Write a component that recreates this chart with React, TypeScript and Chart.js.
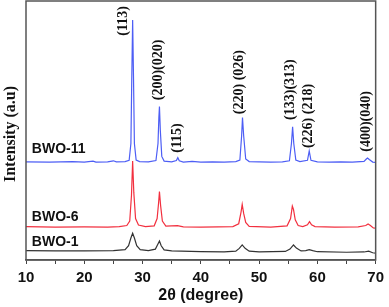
import React, { useEffect, useRef } from "react";
import { Chart, registerables } from "chart.js";

Chart.register(...registerables);

// ---- data ----
const bwo11X = [10, 14, 18, 20, 21.5, 22, 24, 25, 25.5, 27, 27.7, 28.0, 28.15, 28.3, 28.45, 28.6, 28.9, 29.5, 31, 32.3, 32.65, 32.8, 32.9, 33.05, 33.3, 33.7, 35, 35.8, 36.05, 36.3, 37, 38.5, 40, 42, 44, 46, 46.7, 47.0, 47.15, 47.35, 47.7, 48.3, 50, 52, 54, 55.2, 55.55, 55.75, 55.95, 56.3, 57, 58.3, 58.6, 58.9, 60, 62, 64, 66, 68, 68.4, 68.6, 68.9, 69.5, 70];
const bwo11Y = [37.9, 37.8, 38.0, 37.8, 38.2, 37.8, 37.9, 38.3, 37.9, 38.0, 38.5, 45, 70, 92.7, 70, 45, 38.6, 38.0, 37.9, 38.4, 45, 55, 59.3, 50, 40, 38.2, 37.9, 38.4, 39.5, 38.3, 37.8, 38.1, 37.8, 37.9, 37.8, 38.0, 38.6, 48, 55, 48, 39, 38.0, 37.9, 37.8, 37.9, 38.3, 45, 51.4, 45, 38.6, 38.0, 38.5, 42.1, 38.5, 37.9, 37.8, 37.9, 37.8, 38.1, 39, 39.4, 38.8, 37.8, 37.7];

const bwo6X = [10, 15, 20, 24, 26, 27.3, 27.8, 28.1, 28.3, 28.5, 28.8, 29.3, 30.5, 32.0, 32.5, 32.75, 32.9, 33.1, 33.4, 34, 36, 37, 40, 43, 45.5, 46.5, 46.9, 47.1, 47.35, 47.7, 48.3, 52, 54.8, 55.4, 55.7, 55.9, 56.2, 56.7, 57.5, 58.3, 58.65, 59, 59.6, 63, 67, 68.3, 68.7, 69.1, 69.6, 70];
const bwo6Y = [12.9, 12.7, 12.8, 12.7, 12.9, 13.3, 15, 25, 38.2, 26, 16, 13.5, 12.9, 13.2, 16, 22, 26.4, 21, 15, 13.1, 13.3, 12.8, 12.7, 12.8, 12.9, 14, 18.5, 21.5, 18, 14.5, 13.0, 12.7, 13.2, 16, 20.8, 19.5, 15.5, 13.3, 12.9, 13.6, 14.8, 13.6, 12.9, 12.7, 12.8, 13.3, 13.9, 13.3, 12.4, 12.3];

const bwo1X = [10, 15, 20, 25, 27, 27.6, 28.0, 28.3, 28.6, 29.0, 29.6, 31, 32.2, 32.6, 32.9, 33.2, 33.7, 35, 40, 44, 46.0, 46.6, 47.1, 47.6, 48.3, 50, 54.5, 55.3, 55.9, 56.4, 57.2, 58.0, 58.6, 59.2, 60, 65, 68, 68.8, 69.5, 70];
const bwo1Y = [3.6, 3.5, 3.5, 3.6, 4.0, 5.5, 8.5, 10.3, 8.5, 5.5, 4.0, 3.6, 4.2, 6, 7.3, 5.5, 3.9, 3.5, 3.2, 3.1, 3.4, 4.5, 5.8, 4.5, 3.4, 3.1, 3.3, 4.2, 5.8, 4.6, 3.5, 3.6, 4.0, 3.6, 3.2, 3.0, 3.1, 3.4, 2.8, 2.6];

const xTicks = [10, 20, 30, 40, 50, 60, 70];

const seriesNames = ["BWO-11", "BWO-6", "BWO-1"];
const seriesLabelX = [11.0, 11.0, 11.0];
const seriesLabelY = [42.7, 16.6, 6.9];

const peakLabelText = ["(113)", "(200)(020)", "(115)", "(220) (026)", "(133)(313)", "(226) (218)", "(400)(040)"];
const peakLabelX = [26.75, 32.66, 36.06, 46.7, 55.4, 58.4, 68.4];
const peakLabelY = [92.3, 73.4, 47.1, 68.7, 65.8, 55.6, 53.5];

const xTitle = "2θ (degree)";
const yTitle = "Intensity (a.u)";

const toPts = (xs: number[], ys: number[]) => xs.map((x, i) => ({ x, y: ys[i] }));

const textPlugin = {
  id: "texts",
  afterDraw(chart: any) {
    const ctx = chart.ctx;
    const xs = chart.scales.x;
    const ys = chart.scales.y;
    const ca = chart.chartArea;
    ctx.save();
    // frame
    ctx.strokeStyle = "#555";
    ctx.lineWidth = 1.5;
    ctx.strokeRect(ca.left, ca.top, ca.right - ca.left, ca.bottom - ca.top);
    // series labels
    ctx.fillStyle = "#111";
    ctx.font = "bold 14px 'Liberation Sans', Arial, sans-serif";
    ctx.textAlign = "left";
    ctx.textBaseline = "middle";
    seriesNames.forEach((s, i) => {
      ctx.fillText(s, xs.getPixelForValue(seriesLabelX[i]), ys.getPixelForValue(seriesLabelY[i]));
    });
    // peak labels
    ctx.font = "bold 14px 'Liberation Serif', 'Times New Roman', serif";
    ctx.textAlign = "center";
    ctx.textBaseline = "middle";
    peakLabelText.forEach((t, i) => {
      ctx.save();
      ctx.translate(xs.getPixelForValue(peakLabelX[i]), ys.getPixelForValue(peakLabelY[i]));
      ctx.rotate(-Math.PI / 2);
      ctx.fillText(t, 0, 0);
      ctx.restore();
    });
    // y title
    ctx.font = "bold 16px 'Liberation Serif', 'Times New Roman', serif";
    ctx.save();
    ctx.translate(ca.left - 15, ca.top + 133);
    ctx.rotate(-Math.PI / 2);
    ctx.fillText(yTitle, 0, 0);
    ctx.restore();
    ctx.restore();
  },
};

export default function App() {
  const ref = useRef<HTMLCanvasElement>(null);
  useEffect(() => {
    document.body.style.margin = "0";
    const chart = new Chart(ref.current!, {
      type: "line",
      data: {
        datasets: [
          { label: seriesNames[0], data: toPts(bwo11X, bwo11Y), borderColor: "#4d5ef5", borderWidth: 1.2, pointRadius: 0, tension: 0 },
          { label: seriesNames[1], data: toPts(bwo6X, bwo6Y), borderColor: "#f2303f", borderWidth: 1.2, pointRadius: 0, tension: 0 },
          { label: seriesNames[2], data: toPts(bwo1X, bwo1Y), borderColor: "#333", borderWidth: 1.2, pointRadius: 0, tension: 0 },
        ],
      },
      options: {
        animation: false,
        responsive: false,
        layout: { padding: { left: 26, right: 10, top: 1, bottom: 0 } },
        plugins: { legend: { display: false }, tooltip: { enabled: false } },
        scales: {
          x: {
            type: "linear",
            min: 10,
            max: 70,
            afterFit: (s: any) => { s.height = 47; },
            grid: { display: true, drawOnChartArea: false, drawTicks: true, tickLength: 4, color: "#444", lineWidth: 1 },
            border: { display: true, color: "#555", width: 1.5 },
            ticks: {
              stepSize: 5,
              autoSkip: false,
              maxRotation: 0,
              padding: 5,
              color: "#111",
              font: { family: "'Liberation Sans', Arial, sans-serif", size: 15, weight: "bold" },
              callback: (v: any) => (xTicks.includes(Number(v)) ? String(v) : ""),
            },
            title: {
              display: true,
              text: xTitle,
              color: "#111",
              font: { family: "'Liberation Sans', Arial, sans-serif", size: 16, weight: "bold" },
              padding: { top: 0, bottom: 2 },
            },
          },
          y: { display: false, min: 0, max: 100 },
        },
      },
      plugins: [textPlugin],
    });
    return () => chart.destroy();
  }, []);
  return (
    <div style={{ width: 389, height: 307 }}>
      <canvas ref={ref} width={389} height={307} />
    </div>
  );
}
